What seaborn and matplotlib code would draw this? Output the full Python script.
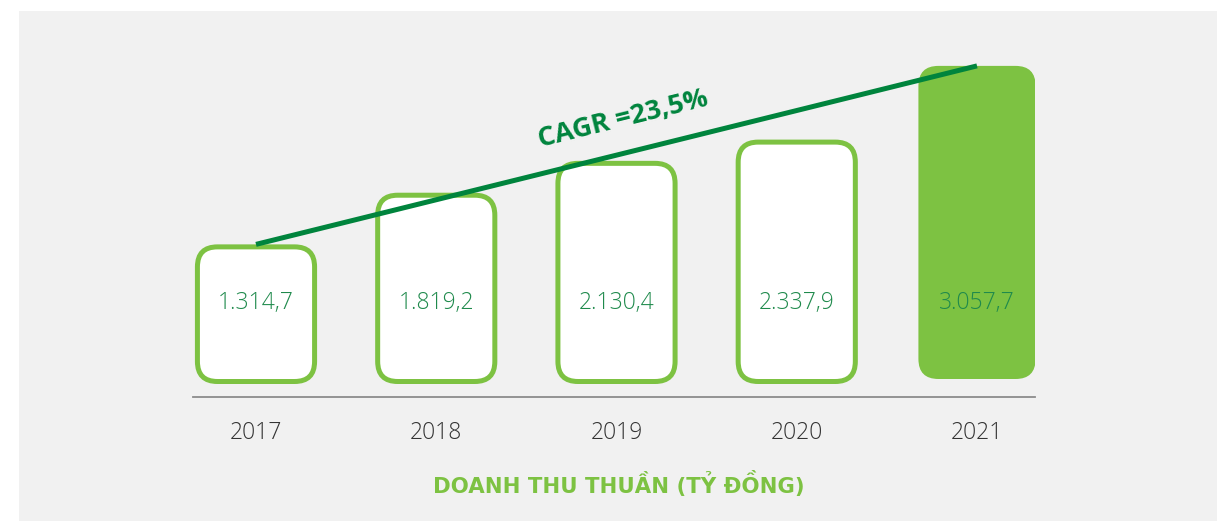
import matplotlib
matplotlib.use("Agg")
import matplotlib.pyplot as plt
from matplotlib.patches import FancyBboxPatch, Rectangle
import seaborn as sns
import pandas as pd
import numpy as np

years = ["2017", "2018", "2019", "2020", "2021"]
values = [1314.7, 1819.2, 2130.4, 2337.9, 3057.7]
value_labels = ["1.314,7", "1.819,2", "2.130,4", "2.337,9", "3.057,7"]
cagr_label = "CAGR =23,5%"
title = "DOANH THU THUẦN (TỶ ĐỒNG)"

LIGHT = "#7dc242"
DARK = "#00843d"
VALTXT = "#1f8a4c"
BG = "#f1f1f1"

sns.set_theme(style="white")
plt.rcParams["font.family"] = ["Open Sans", "DejaVu Sans"]

W, H = 1217, 521
fig = plt.figure(figsize=(W / 100, H / 100), dpi=100)
fig.patch.set_facecolor("white")
fig.patches.append(Rectangle((19 / W, 0), 1 - 19 / W, 1 - 11 / H, transform=fig.transFigure,
                             facecolor=BG, edgecolor="none", zorder=-10))

ax_l, ax_r, ax_b, ax_t = 193, 1035, 397, 40
ax = fig.add_axes([ax_l / W, 1 - ax_b / H, (ax_r - ax_l) / W, (ax_b - ax_t) / H])
ax.set_facecolor("none")

pxx = 180.25   # px per category
pxy = 0.1024   # px per unit
x0 = -(256 - ax_l) / pxx
x1 = 4 + (ax_r - 977) / pxx
y_bottom = -(ax_b - 379) / pxy
y_top = (379 - ax_t) / pxy

df = pd.DataFrame({"year": years, "value": values})
sns.barplot(data=df, x="year", y="value", width=0.65, color=LIGHT, ax=ax)
ax.set_xlim(x0, x1)
ax.set_ylim(y_bottom, y_top)

r = 20 / pxx
aspect = pxx / pxy
half_stroke = 2.5 / pxy
bars = list(ax.patches)
for i, p in enumerate(bars):
    bx, by, bw, bh = p.get_x(), p.get_y(), p.get_width(), p.get_height()
    p.remove()
    last = i == len(bars) - 1
    if not last:
        by, bh = by - half_stroke, bh  # keep outer top edge at the value
    fb = FancyBboxPatch((bx, by), bw, bh,
                        boxstyle=f"round,pad=0,rounding_size={r}",
                        mutation_aspect=aspect,
                        facecolor=LIGHT if last else "white",
                        edgecolor="none" if last else LIGHT,
                        linewidth=0 if last else 3.6, zorder=2)
    ax.add_patch(fb)

label_y = (379 - 303) / pxy
for i, lab in enumerate(value_labels):
    ax.text(i, label_y, lab, ha="center", va="center", fontsize=16.5,
            color=VALTXT, fontweight="light", zorder=4)

# CAGR line
ax.plot([0, 4], [values[0], values[-1]], color=DARK, linewidth=3.6,
        solid_capstyle="butt", zorder=5)
ang = np.degrees(np.arctan2((values[-1] - values[0]) * pxy, 4 * pxx))
ax.text((623 - 256) / pxx, (379 - 119) / pxy, cagr_label, rotation=ang,
        rotation_mode="anchor", ha="center", va="center", fontsize=19.5,
        fontweight="bold", color=DARK, zorder=6)

# axes styling
for s in ["top", "left", "right"]:
    ax.spines[s].set_visible(False)
ax.spines["bottom"].set_color("#8c8c8c")
ax.spines["bottom"].set_linewidth(1.3)
ax.set_yticks([])
ax.set_xlabel("")
ax.set_ylabel("")
ax.tick_params(axis="x", length=0, pad=17, labelsize=16.5, labelcolor="#333333")
for t in ax.get_xticklabels():
    t.set_fontweight("light")

fig.text(619 / W, 1 - 484 / H, title, ha="center", va="center", fontsize=15.3,
         fontweight="bold", color=LIGHT, family=["DejaVu Sans"])

fig.savefig("out.png", dpi=100, facecolor=fig.get_facecolor())
